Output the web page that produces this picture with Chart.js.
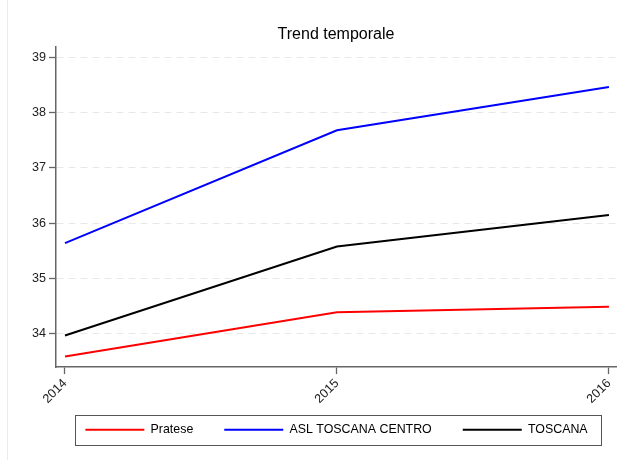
<!DOCTYPE html>
<html lang="it">
<head>
    <meta charset="UTF-8">
    <title>Trend temporale</title>
    <script src="https://cdn.jsdelivr.net/npm/chart.js"></script>
    <style>
        html, body { margin: 0; padding: 0; background: #fff; }
        #wrap { width: 623px; height: 460px; }
    </style>
</head>
<body>
    <div id="wrap"><canvas id="trendChart"></canvas></div>

    <script>
        // ** Data **
        let years = [2014, 2015, 2016];
        let pratese = [33.59, 34.39, 34.49];
        let aslToscanaCentro = [35.64, 37.68, 38.46];
        let toscana = [33.97, 35.58, 36.15];
        let yTicks = [34, 35, 36, 37, 38, 39];

        let seriesNames = ["Pratese", "ASL TOSCANA CENTRO", "TOSCANA"];
        let seriesValues = [pratese, aslToscanaCentro, toscana];
        let colors = ["#ff0000", "#0000ff", "#000000"];

        const legendPad = 31;
        const legendFont = 12.4;

        // title + legend moved under the plot centre, legend framed, faint outer border line
        const framePlugin = {
            id: "frame",
            afterLayout(chart) {
                const plotMid = (chart.chartArea.left + chart.chartArea.right) / 2;
                const lg = chart.legend;
                const dx = plotMid - (lg.left + lg.right) / 2 + 0.5;
                lg.left += dx;
                lg.right += dx;
                lg.top -= 14;
                lg.bottom -= 14;
                lg.legendHitBoxes.forEach(b => { b.left += dx; });
                const tb = chart.titleBlock;
                const tdx = plotMid - (tb.left + tb.right) / 2;
                tb.left += tdx;
                tb.right += tdx;
            },
            beforeDraw(chart) {
                const ctx = chart.ctx;
                ctx.save();
                ctx.strokeStyle = "#e4edf1";
                ctx.lineWidth = 1;
                ctx.beginPath();
                ctx.moveTo(7.5, 0);
                ctx.lineTo(7.5, chart.height);
                ctx.stroke();
                ctx.restore();
            },
            afterDraw(chart) {
                const lg = chart.legend;
                const boxes = lg.legendHitBoxes;
                if (!boxes || !boxes.length) return;
                const ctx = chart.ctx;
                const last = boxes[boxes.length - 1];
                const left = boxes[0].left - 10;
                const right = last.left + last.width + 14;
                const mid = lg.top + legendPad + legendFont / 2;
                ctx.save();
                ctx.strokeStyle = "#555";
                ctx.lineWidth = 1;
                ctx.strokeRect(Math.round(left) + 0.5, Math.round(mid - 15) + 0.5, Math.round(right - left), 30);
                ctx.restore();
            }
        };

        let ctx = document.getElementById("trendChart").getContext("2d");
        new Chart(ctx, {
            type: "line",
            data: {
                datasets: seriesNames.map((name, i) => ({
                    label: name,
                    data: years.map((yr, j) => ({ x: yr, y: seriesValues[i][j] })),
                    borderColor: colors[i],
                    backgroundColor: colors[i],
                    borderWidth: 2,
                    pointRadius: 0,
                    tension: 0,
                    fill: false
                }))
            },
            plugins: [framePlugin],
            options: {
                responsive: true,
                maintainAspectRatio: false,
                animation: false,
                layout: { padding: { left: 0, right: 7, top: 0, bottom: 0 } },
                plugins: {
                    tooltip: { enabled: false },
                    title: {
                        display: true,
                        text: "Trend temporale",
                        color: "#000",
                        font: { family: "Arial, 'Liberation Sans'", size: 16, weight: "normal" },
                        padding: { top: 25, bottom: 3 }
                    },
                    legend: {
                        position: "bottom",
                        labels: {
                            boxWidth: 59,
                            boxHeight: 2,
                            padding: legendPad,
                            color: "#000",
                            font: { family: "Arial, 'Liberation Sans'", size: legendFont },
                            generateLabels(chart) {
                                return Chart.defaults.plugins.legend.labels.generateLabels(chart).map(item => {
                                    item.lineWidth = 0;
                                    item.fillStyle = item.strokeStyle;
                                    return item;
                                });
                            }
                        }
                    }
                },
                scales: {
                    x: {
                        type: "linear",
                        min: 2013.967,
                        max: 2016.026,
                        afterBuildTicks(scale) {
                            scale.ticks = years.map(v => ({ value: v }));
                        },
                        afterFit(scale) {
                            scale.height -= 2;
                        },
                        ticks: {
                            minRotation: 45,
                            maxRotation: 45,
                            padding: 2,
                            color: "#222",
                            font: { family: "Arial, 'Liberation Sans'", size: 12.6 },
                            callback: v => String(v)
                        },
                        grid: {
                            drawOnChartArea: false,
                            drawTicks: true,
                            tickLength: 7,
                            tickColor: "#666",
                            tickWidth: 1.3
                        },
                        border: { display: true, color: "#666", width: 1.5 }
                    },
                    y: {
                        min: 33.4,
                        max: 39.18,
                        afterBuildTicks(scale) {
                            scale.ticks = yTicks.map(v => ({ value: v }));
                        },
                        afterFit(scale) {
                            scale.width = 56;
                        },
                        ticks: {
                            padding: 3,
                            color: "#222",
                            font: { family: "Arial, 'Liberation Sans'", size: 12.6 },
                            callback: v => String(v)
                        },
                        grid: {
                            color: "#e8e8e8",
                            lineWidth: 1,
                            drawTicks: true,
                            tickLength: 7,
                            tickColor: "#666",
                            tickWidth: 1.3,
                            tickBorderDash: []
                        },
                        border: { display: true, color: "#666", width: 1.5, dash: [7, 5] }
                    }
                }
            }
        });
    </script>
</body>
</html>
